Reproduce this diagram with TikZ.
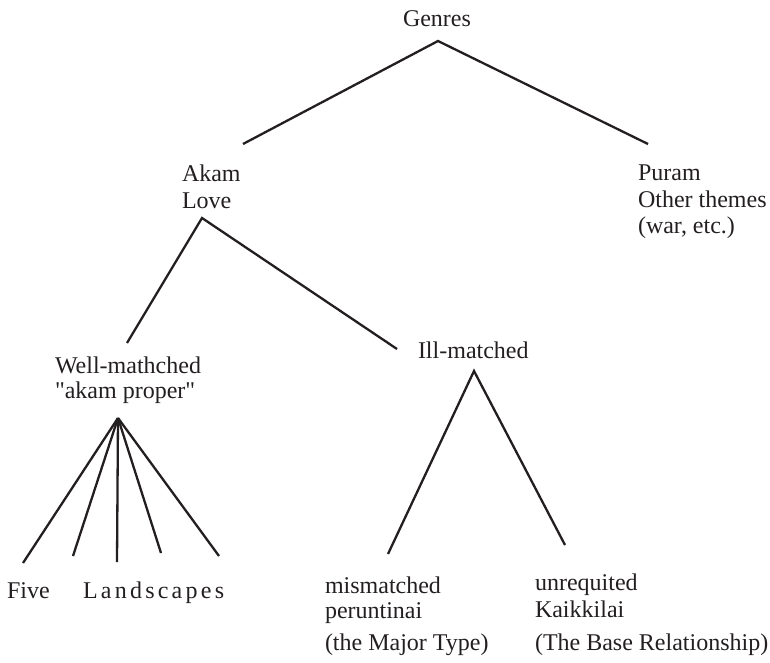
\documentclass[tikz,border=0pt]{standalone}
\usepackage{fontspec}
\setmainfont{Liberation Serif}
\definecolor{ink}{HTML}{231F20}
\begin{document}
\begin{tikzpicture}[x=1pt,y=-1pt,
  lbl/.style={anchor=base west,inner sep=0pt,outer sep=0pt,text=ink,font=\fontsize{24}{26}\selectfont},
  edge/.style={draw=ink,line width=2.3pt}]
\useasboundingbox (0,0) rectangle (770,663);
% labels
\node[lbl] (genres) at (403,27) {Genres};
\node[lbl] (akam) at (182,182) {Akam};
\node[lbl] (love) at (182,208) {Love};
\node[lbl] (puram) at (638,181) {Puram};
\node[lbl] (other) at (638,207) {Other themes};
\node[lbl] (war) at (638,233) {(war, etc.)};
\node[lbl] (well) at (55,373) {Well-mathched};
\node[lbl] (proper) at (55,398) {\textquotedbl akam proper\textquotedbl};
\node[lbl] (ill) at (418,358) {Ill-matched};
\node[lbl] (five) at (7,598) {Five};
\node[lbl] (land) at (83,598) {\addfontfeature{LetterSpace=13.5}Landscapes};
\node[lbl] (mis) at (325,593) {mismatched};
\node[lbl] (perun) at (325,618) {peruntinai};
\node[lbl] (major) at (325,650) {(the Major Type)};
\node[lbl] (unreq) at (535,590) {unrequited};
\node[lbl] (kaik) at (535,617) {Kaikkilai};
\node[lbl] (base) at (535,650) {(The Base Relationship)};
% connector points
\coordinate (gA) at (438,41);
\coordinate (gL) at (243,144);
\coordinate (gR) at (648,144);
\coordinate (aA) at (202,218);
\coordinate (aL) at (127,343);
\coordinate (aR) at (397,349);
\coordinate (iA) at (474,371);
\coordinate (iL) at (388,554);
\coordinate (iR) at (565,545);
\coordinate (wA) at (118,418);
\coordinate (w1) at (23,563);
\coordinate (w2) at (73,556);
\coordinate (w3) at (117,562);
\coordinate (w4) at (161,553);
\coordinate (w5) at (219,556);
% connectors
\draw[edge] (gL) -- (gA) -- (gR);
\draw[edge] (aL) -- (aA) -- (aR);
\draw[edge] (iL) -- (iA) -- (iR);
\foreach \e in {w1,w2,w3,w4,w5} \draw[edge] (wA) -- (\e);
\end{tikzpicture}
\end{document}
